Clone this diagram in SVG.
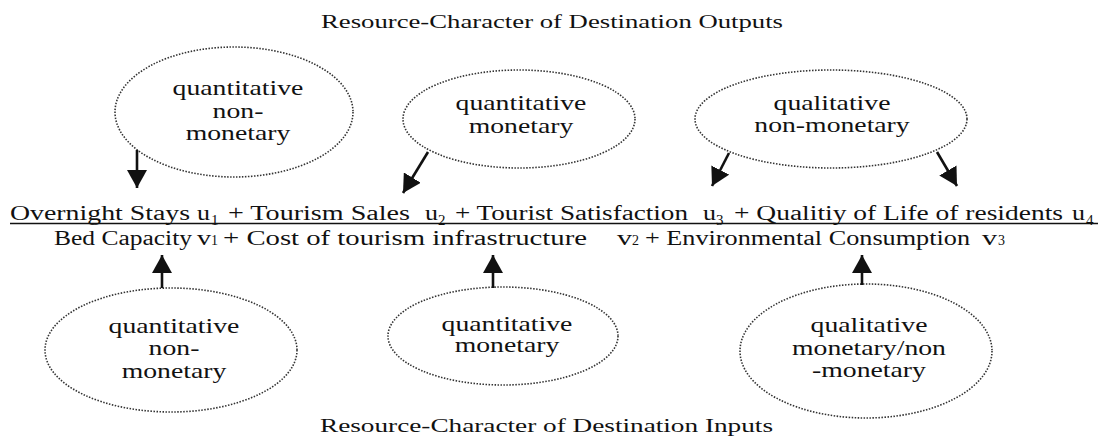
<svg xmlns="http://www.w3.org/2000/svg" width="1103" height="438" viewBox="0 0 1103 438">
<defs>
<style>
.t{font-family:"Liberation Serif","Times New Roman",serif;fill:#111;}
.title{font-size:19px;}
.eq{font-size:20px;}
.sub{font-size:15px;}
.sub2{font-size:14px;}
.el{font-size:21px;text-anchor:middle;}
.oval{fill:none;stroke:#333;stroke-width:1.6;stroke-dasharray:1.5 1.5;}
.arr{stroke:#111;stroke-width:2.6;fill:none;marker-end:url(#ah);}
</style>
<marker id="ah" viewBox="0 0 18 20" refX="18" refY="10" markerWidth="18" markerHeight="20" markerUnits="userSpaceOnUse" orient="auto">
<path d="M0,0 L18,10 L0,20 z" fill="#111"/>
</marker>
</defs>
<rect width="1103" height="438" fill="#fff"/>

<text class="t title" x="321" y="28" textLength="462" lengthAdjust="spacingAndGlyphs">Resource-Character of Destination Outputs</text>
<text class="t title" x="320" y="432" textLength="453" lengthAdjust="spacingAndGlyphs">Resource-Character of Destination Inputs</text>

<g id="equation">
<text class="t eq" x="10" y="220" textLength="180" lengthAdjust="spacingAndGlyphs">Overnight Stays</text>
<text class="t eq" x="197" y="220" textLength="13" lengthAdjust="spacingAndGlyphs">u</text>
<text class="t sub" x="211" y="225">1</text>
<text class="t eq" x="228" y="220" textLength="182" lengthAdjust="spacingAndGlyphs">+ Tourism Sales</text>
<text class="t eq" x="425" y="220" textLength="13" lengthAdjust="spacingAndGlyphs">u</text>
<text class="t sub" x="438" y="225">2</text>
<text class="t eq" x="455" y="220" textLength="233" lengthAdjust="spacingAndGlyphs">+ Tourist Satisfaction</text>
<text class="t eq" x="703" y="220" textLength="13" lengthAdjust="spacingAndGlyphs">u</text>
<text class="t sub" x="716" y="225">3</text>
<text class="t eq" x="734" y="220" textLength="329" lengthAdjust="spacingAndGlyphs">+ Qualitiy of Life of residents</text>
<text class="t eq" x="1072" y="220" textLength="13" lengthAdjust="spacingAndGlyphs">u</text>
<text class="t sub" x="1086" y="225">4</text>
<line x1="10" y1="223.5" x2="1098" y2="223.5" stroke="#111" stroke-width="1.6"/>

<text class="t eq" x="54" y="245" textLength="138" lengthAdjust="spacingAndGlyphs">Bed Capacity</text>
<text class="t eq" x="197" y="245" textLength="14" lengthAdjust="spacingAndGlyphs">v</text>
<text class="t sub2" x="211" y="245">1</text>
<text class="t eq" x="223" y="245" textLength="364" lengthAdjust="spacingAndGlyphs">+ Cost of tourism infrastructure</text>
<text class="t eq" x="617" y="245" textLength="15" lengthAdjust="spacingAndGlyphs">v</text>
<text class="t sub2" x="632" y="245">2</text>
<text class="t eq" x="645" y="245" textLength="325" lengthAdjust="spacingAndGlyphs">+ Environmental Consumption</text>
<text class="t eq" x="982" y="245" textLength="15" lengthAdjust="spacingAndGlyphs">v</text>
<text class="t sub2" x="998" y="245">3</text>
</g>

<g id="out1">
<ellipse class="oval" cx="234" cy="112" rx="119" ry="65"/>
<text class="t el" transform="translate(238,0) scale(1.32,1)"><tspan x="0" y="95">quantitative</tspan><tspan x="0" y="118">non-</tspan><tspan x="0" y="140">monetary</tspan></text>
</g>
<g id="out2">
<ellipse class="oval" cx="519" cy="119" rx="116" ry="49"/>
<text class="t el" transform="translate(521,0) scale(1.32,1)"><tspan x="0" y="110">quantitative</tspan><tspan x="0" y="133">monetary</tspan></text>
</g>
<g id="out3">
<ellipse class="oval" cx="831" cy="119" rx="136" ry="49"/>
<text class="t el" transform="translate(832,0) scale(1.32,1)"><tspan x="0" y="110">qualitative</tspan><tspan x="0" y="132">non-monetary</tspan></text>
</g>
<g id="in1">
<ellipse class="oval" cx="171" cy="350" rx="126" ry="62"/>
<text class="t el" transform="translate(174,0) scale(1.32,1)"><tspan x="0" y="333">quantitative</tspan><tspan x="0" y="355">non-</tspan><tspan x="0" y="378">monetary</tspan></text>
</g>
<g id="in2">
<ellipse class="oval" cx="503" cy="336" rx="115" ry="49"/>
<text class="t el" transform="translate(507,0) scale(1.32,1)"><tspan x="0" y="331">quantitative</tspan><tspan x="0" y="352">monetary</tspan></text>
</g>
<g id="in3">
<ellipse class="oval" cx="866" cy="351" rx="126" ry="67"/>
<text class="t el" transform="translate(869,0) scale(1.32,1)"><tspan x="0" y="332">qualitative</tspan><tspan x="0" y="355">monetary/non</tspan><tspan x="0" y="377">-monetary</tspan></text>
</g>

<g id="connectors">
<line class="arr" x1="137" y1="150" x2="137" y2="188"/>
<line class="arr" x1="428" y1="152" x2="403" y2="193"/>
<line class="arr" x1="729" y1="153" x2="712" y2="186"/>
<line class="arr" x1="937" y1="152" x2="957" y2="186"/>
<line class="arr" x1="162" y1="288" x2="162" y2="255"/>
<line class="arr" x1="493" y1="288" x2="493" y2="255"/>
<line class="arr" x1="862" y1="285" x2="862" y2="255"/>
</g>
</svg>
